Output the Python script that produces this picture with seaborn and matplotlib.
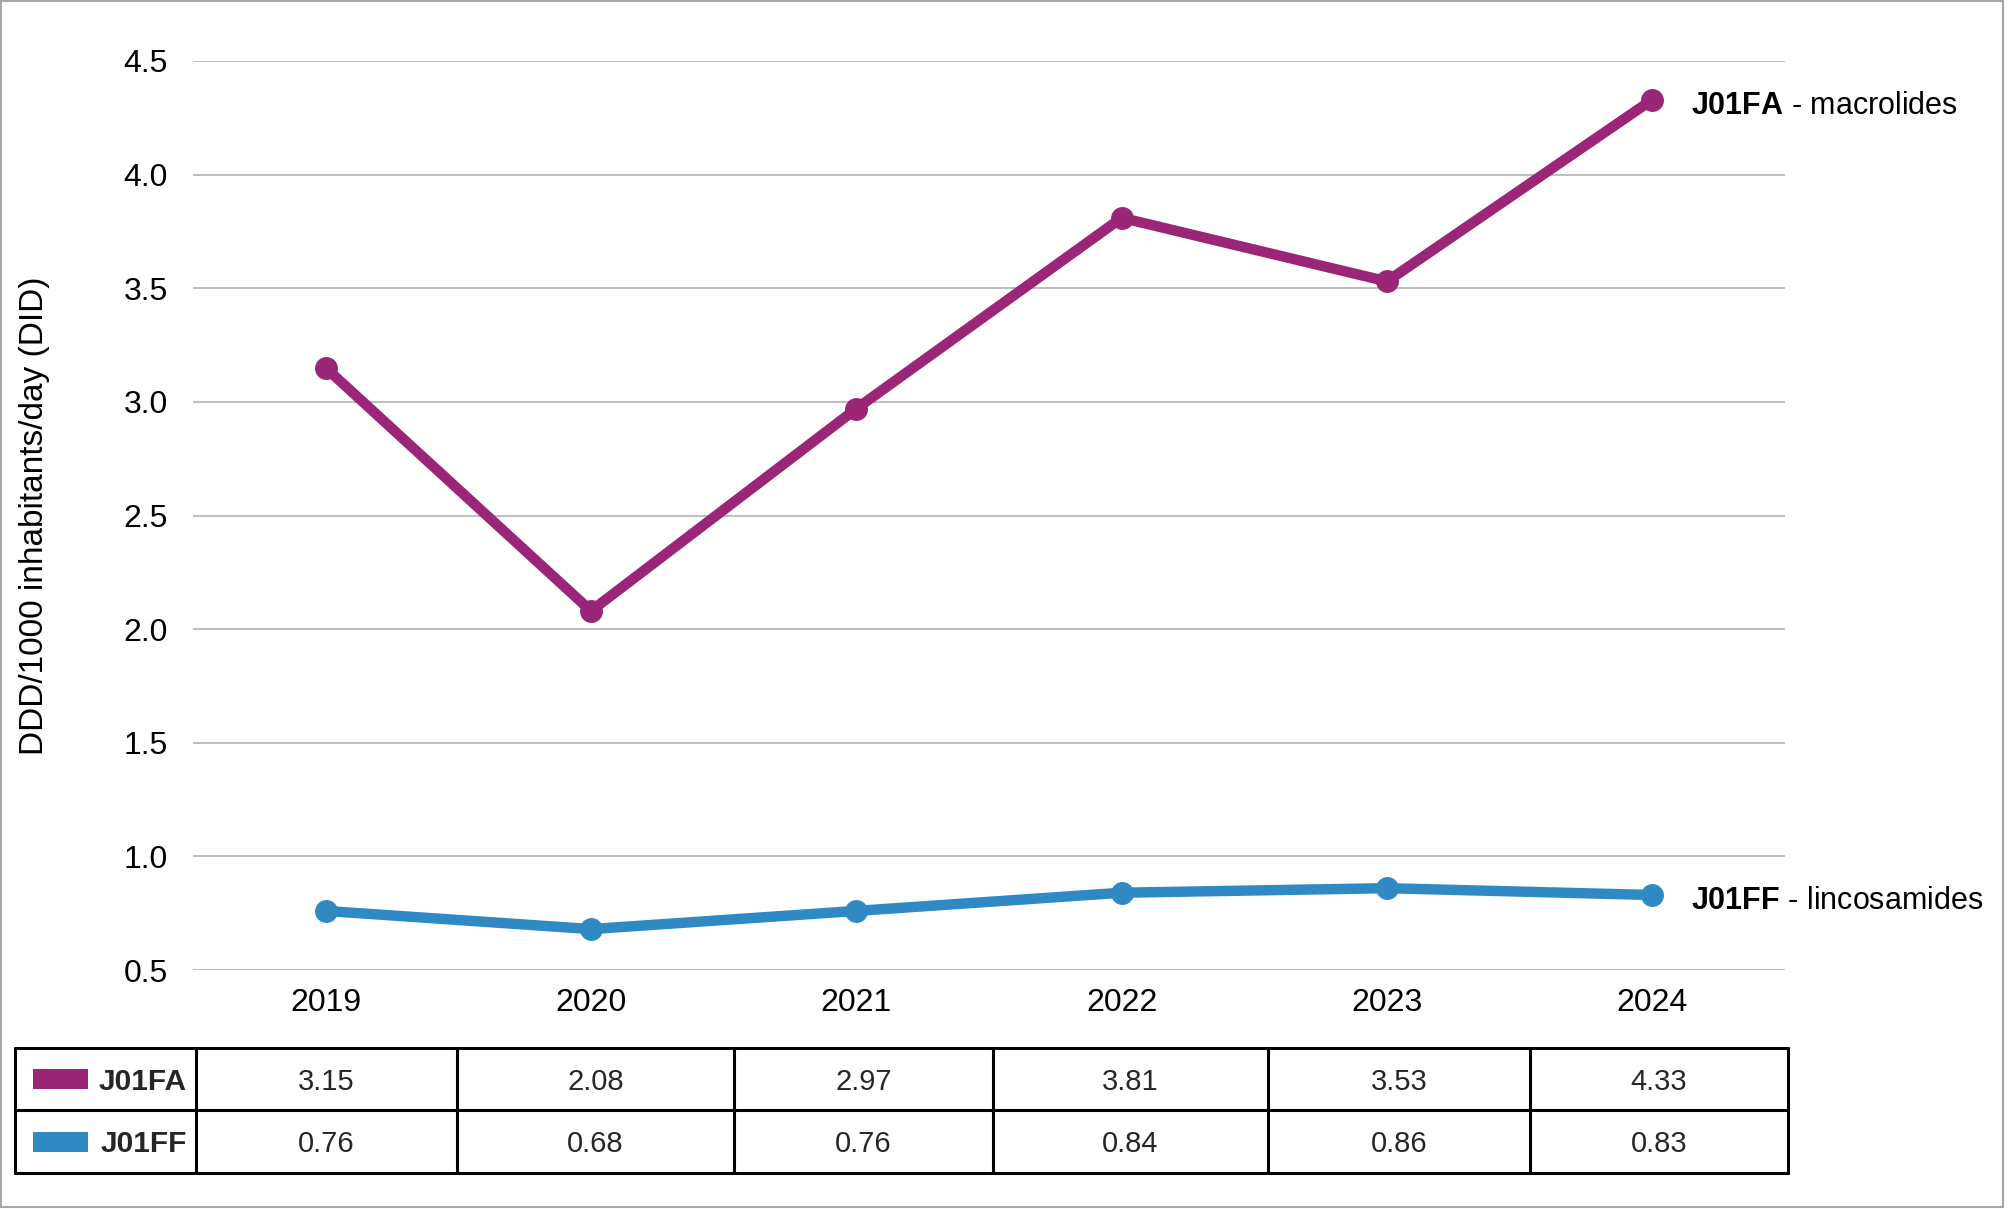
import matplotlib
matplotlib.use("Agg")
import matplotlib.pyplot as plt
import seaborn as sns
import pandas as pd
from matplotlib.patches import Rectangle
from matplotlib.lines import Line2D

years = ["2019", "2020", "2021", "2022", "2023", "2024"]
j01fa = [3.15, 2.08, 2.97, 3.81, 3.53, 4.33]
j01ff = [0.76, 0.68, 0.76, 0.84, 0.86, 0.83]
codes = ["J01FA", "J01FF"]
names = ["macrolides", "lincosamides"]
colors = ["#9B2577", "#2F8AC4"]
ylabel = "DDD/1000 inhabitants/day (DID)"
yticks = [0.5, 1.0, 1.5, 2.0, 2.5, 3.0, 3.5, 4.0, 4.5]

rows = []
for code, vals in zip(codes, [j01fa, j01ff]):
    for i, (y, v) in enumerate(zip(years, vals)):
        rows.append({"pos": i, "year": y, "value": v, "code": code})
df = pd.DataFrame(rows)

sns.set_theme(style="white")
plt.rcParams["font.family"] = ["Liberation Sans", "DejaVu Sans"]
plt.rcParams["mathtext.fontset"] = "custom"
plt.rcParams["mathtext.bf"] = "Liberation Sans:bold"
plt.rcParams["mathtext.rm"] = "Liberation Sans"

W, H = 2009, 1209
fig = plt.figure(figsize=(W / 100, H / 100), dpi=100)
fig.patch.set_facecolor("white")

def fx(px):
    return px / W

def fy(py):
    return 1 - py / H

AX_L, AX_R = 193, 1785
ax = fig.add_axes([fx(AX_L), fy(970), fx(AX_R) - fx(AX_L), fy(61) - fy(970)])

sns.lineplot(data=df, x="pos", y="value", hue="code", palette=dict(zip(codes, colors)),
             marker="o", markersize=16.5, markeredgewidth=0, linewidth=7.5,
             ax=ax, legend=False)

ax.set_xlim(-0.5, len(years) - 0.5)
ax.set_ylim(0.5, 4.5)
ax.set_yticks(yticks)
ax.set_yticklabels([f"{t:.1f}" for t in yticks])
ax.set_xticks(range(len(years)))
ax.set_xticklabels(years)
ax.set_xlabel("")
ax.set_ylabel(ylabel, fontsize=24, color="black")
ax.yaxis.set_label_coords((50 - AX_L) / (AX_R - AX_L), 0.5)
ax.tick_params(axis="both", length=0, labelsize=23, colors="black")
ax.tick_params(axis="x", pad=13)
ax.tick_params(axis="y", pad=18)
ax.yaxis.grid(True, color="#BFBFBF", linewidth=1.5)
ax.xaxis.grid(False)
ax.set_axisbelow(True)
for s in ax.spines.values():
    s.set_visible(False)

for code, name, vals in zip(codes, names, [j01fa, j01ff]):
    ax.annotate(r"$\mathbf{" + code + "}$ - " + name, xy=(len(years) - 1, vals[-1]),
                xytext=(28, -2), textcoords="offset points", va="center_baseline", ha="left",
                fontsize=22, color="black", annotation_clip=False)

# data table below the chart
col_x = [15, 196, 457, 734, 993, 1268, 1530, 1788]
row_y = [1048, 1110, 1173]
lw = 2.2
for x in col_x:
    fig.add_artist(Line2D([fx(x), fx(x)], [fy(row_y[0]), fy(row_y[-1])], color="black", lw=lw))
for y in row_y:
    fig.add_artist(Line2D([fx(col_x[0]), fx(col_x[-1])], [fy(y), fy(y)], color="black", lw=lw))

for r, (code, color, vals) in enumerate(zip(codes, colors, [j01fa, j01ff])):
    yc = (row_y[r] + row_y[r + 1]) / 2
    fig.add_artist(Rectangle((fx(33), fy(yc + 10)), fx(88) - fx(33), fy(yc - 10) - fy(yc + 10),
                             facecolor=color, edgecolor="none", transform=fig.transFigure))
    fig.text(fx(187), fy(yc), code, fontsize=21.5, fontweight="bold", ha="right", va="center_baseline")
    for c, v in enumerate(vals):
        xc = (col_x[c + 1] + col_x[c + 2]) / 2
        fig.text(fx(xc), fy(yc), f"{v:.2f}", fontsize=21, ha="center", va="center_baseline")

# outer frame
fig.add_artist(Rectangle((fx(1), fy(1207)), fx(2003) - fx(1), fy(1) - fy(1207),
                         facecolor="none", edgecolor="#A6A6A6", lw=1.5, transform=fig.transFigure))

fig.savefig("out.png", dpi=100, facecolor="white")
